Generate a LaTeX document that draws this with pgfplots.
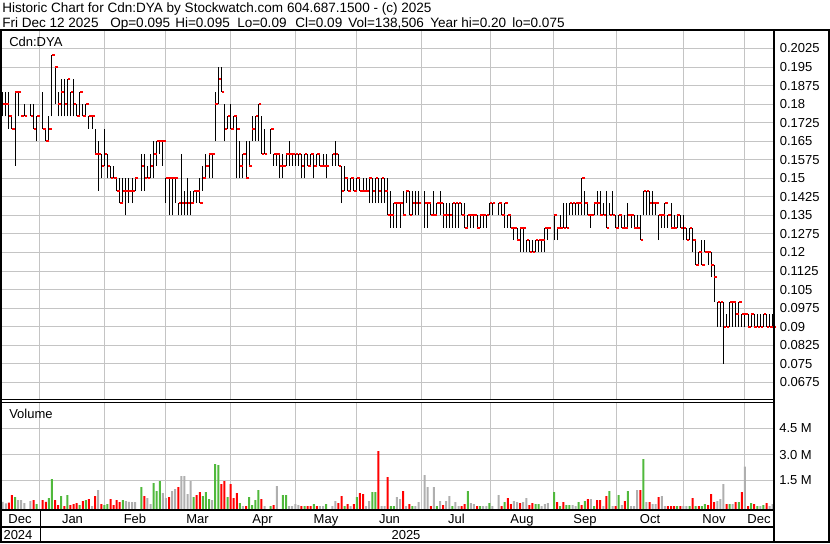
\documentclass[border=0pt]{standalone}
\usepackage{pgfplots}
\pgfplotsset{compat=1.18}
\usepackage{pgfplotstable}
\usepackage{fontspec}
\setmainfont{Liberation Sans}
\definecolor{gridc}{RGB}{196,196,196}
\definecolor{vred}{RGB}{255,0,0}
\definecolor{vgreen}{RGB}{80,185,60}
\definecolor{vgray}{RGB}{175,175,175}
\newcommand{\tf}{\fontsize{9.75}{11}\selectfont}
\newcommand{\hf}{\fontsize{10.15}{12}\selectfont}

% daily price bars: k = trading day index, h = high, l = low, c = close
\pgfplotstableread{
k h l c
0 0.185 0.175 0.18
1 0.185 0.175 0.18
2 0.185 0.17 0.175
3 0.175 0.17 0.17
4 0.185 0.155 0.185
5 0.185 0.175 0.185
6 0.175 0.175 0.175
7 0.18 0.175 0.175
9 0.18 0.175 0.175
10 0.18 0.17 0.17
11 0.175 0.165 0.175
13 0.185 0.17 0.17
14 0.17 0.165 0.165
15 0.175 0.165 0.17
16 0.20 0.175 0.20
17 0.195 0.18 0.195
18 0.185 0.175 0.18
19 0.19 0.175 0.185
20 0.19 0.175 0.18
21 0.19 0.175 0.19
22 0.185 0.175 0.185
23 0.19 0.175 0.18
24 0.18 0.175 0.175
25 0.185 0.175 0.185
26 0.18 0.175 0.175
27 0.18 0.175 0.18
28 0.175 0.17 0.175
29 0.175 0.17 0.175
30 0.17 0.16 0.16
31 0.165 0.145 0.16
32 0.16 0.15 0.155
33 0.17 0.155 0.16
34 0.16 0.15 0.155
35 0.155 0.15 0.15
36 0.155 0.15 0.15
37 0.15 0.145 0.145
38 0.15 0.14 0.14
39 0.15 0.14 0.145
40 0.15 0.135 0.145
41 0.15 0.14 0.145
42 0.15 0.14 0.145
43 0.15 0.145 0.15
45 0.16 0.145 0.155
46 0.16 0.145 0.15
47 0.155 0.15 0.15
48 0.16 0.15 0.155
49 0.165 0.15 0.16
50 0.165 0.155 0.165
51 0.165 0.16 0.165
52 0.165 0.155 0.165
53 0.15 0.14 0.15
54 0.15 0.135 0.15
55 0.15 0.135 0.15
56 0.15 0.14 0.15
57 0.14 0.135 0.14
58 0.16 0.135 0.14
59 0.145 0.135 0.14
60 0.15 0.135 0.14
61 0.145 0.135 0.14
62 0.145 0.14 0.145
63 0.145 0.14 0.145
64 0.15 0.14 0.14
65 0.155 0.145 0.15
66 0.16 0.15 0.155
67 0.16 0.15 0.16
68 0.16 0.15 0.16
69 0.185 0.165 0.18
70 0.195 0.18 0.19
71 0.195 0.185 0.185
72 0.18 0.165 0.17
73 0.175 0.17 0.175
74 0.18 0.17 0.17
75 0.175 0.17 0.175
76 0.175 0.15 0.17
77 0.165 0.15 0.155
78 0.16 0.15 0.16
79 0.165 0.15 0.15
80 0.165 0.155 0.155
81 0.175 0.165 0.17
82 0.175 0.165 0.175
83 0.18 0.165 0.18
84 0.175 0.16 0.16
85 0.17 0.16 0.16
87 0.17 0.16 0.17
88 0.16 0.155 0.16
89 0.16 0.155 0.16
90 0.16 0.15 0.155
91 0.16 0.15 0.155
92 0.16 0.155 0.16
93 0.165 0.155 0.16
94 0.16 0.155 0.16
95 0.16 0.155 0.16
96 0.16 0.155 0.16
97 0.16 0.15 0.155
98 0.16 0.15 0.16
99 0.16 0.155 0.155
100 0.16 0.155 0.16
101 0.16 0.15 0.155
102 0.16 0.155 0.16
103 0.16 0.155 0.155
104 0.16 0.155 0.155
105 0.16 0.15 0.155
107 0.16 0.155 0.16
108 0.165 0.155 0.16
109 0.16 0.155 0.155
110 0.155 0.14 0.145
111 0.155 0.145 0.15
112 0.15 0.145 0.145
113 0.15 0.145 0.15
114 0.15 0.145 0.145
115 0.15 0.145 0.15
116 0.15 0.145 0.145
117 0.15 0.145 0.145
118 0.15 0.145 0.145
119 0.15 0.14 0.15
120 0.15 0.14 0.145
121 0.15 0.14 0.15
122 0.15 0.14 0.145
123 0.15 0.14 0.15
124 0.15 0.14 0.145
125 0.15 0.135 0.135
126 0.145 0.13 0.135
127 0.14 0.13 0.14
128 0.14 0.13 0.14
129 0.14 0.13 0.14
130 0.145 0.135 0.135
131 0.145 0.14 0.145
132 0.145 0.135 0.135
133 0.145 0.135 0.14
134 0.145 0.135 0.14
135 0.145 0.135 0.14
137 0.145 0.13 0.14
138 0.14 0.13 0.14
139 0.14 0.135 0.135
140 0.145 0.135 0.135
141 0.14 0.135 0.14
142 0.145 0.135 0.14
143 0.14 0.13 0.135
144 0.14 0.13 0.135
145 0.14 0.13 0.135
146 0.14 0.13 0.14
147 0.14 0.13 0.14
148 0.14 0.13 0.14
149 0.14 0.135 0.135
150 0.14 0.13 0.13
151 0.135 0.13 0.135
152 0.135 0.13 0.135
153 0.135 0.13 0.135
154 0.135 0.13 0.13
155 0.135 0.13 0.135
156 0.135 0.13 0.135
157 0.135 0.13 0.135
158 0.14 0.135 0.14
159 0.14 0.135 0.14
161 0.14 0.135 0.14
162 0.14 0.135 0.135
163 0.14 0.13 0.14
164 0.135 0.13 0.135
165 0.135 0.13 0.13
166 0.13 0.125 0.13
167 0.13 0.125 0.125
168 0.13 0.12 0.13
169 0.13 0.12 0.13
170 0.125 0.12 0.125
171 0.125 0.12 0.12
172 0.125 0.12 0.12
173 0.125 0.12 0.125
174 0.125 0.12 0.125
175 0.125 0.12 0.125
176 0.13 0.12 0.13
177 0.13 0.125 0.13
179 0.135 0.125 0.135
180 0.13 0.125 0.13
181 0.135 0.13 0.13
182 0.14 0.13 0.13
183 0.14 0.13 0.13
184 0.14 0.135 0.14
185 0.14 0.135 0.14
186 0.14 0.135 0.14
187 0.14 0.135 0.14
188 0.15 0.135 0.15
189 0.145 0.135 0.14
190 0.14 0.135 0.135
191 0.135 0.13 0.135
192 0.14 0.135 0.14
193 0.145 0.135 0.14
194 0.145 0.135 0.135
195 0.14 0.135 0.135
196 0.145 0.13 0.13
197 0.14 0.135 0.135
198 0.145 0.135 0.135
199 0.135 0.13 0.13
200 0.135 0.13 0.135
201 0.135 0.13 0.13
202 0.135 0.13 0.13
203 0.14 0.13 0.135
204 0.135 0.13 0.135
205 0.135 0.13 0.13
206 0.135 0.13 0.13
207 0.135 0.125 0.125
208 0.145 0.135 0.145
209 0.145 0.135 0.145
210 0.145 0.135 0.14
211 0.145 0.135 0.14
212 0.14 0.135 0.14
213 0.135 0.125 0.135
214 0.135 0.13 0.135
215 0.14 0.13 0.14
216 0.135 0.13 0.135
217 0.14 0.13 0.13
218 0.135 0.13 0.13
219 0.135 0.13 0.135
220 0.135 0.13 0.13
221 0.135 0.125 0.13
222 0.13 0.125 0.125
223 0.13 0.125 0.13
224 0.13 0.12 0.125
225 0.125 0.115 0.115
226 0.12 0.115 0.12
227 0.125 0.115 0.115
228 0.125 0.12 0.12
229 0.12 0.115 0.12
230 0.12 0.11 0.115
231 0.115 0.10 0.11
232 0.10 0.09 0.10
233 0.10 0.09 0.10
234 0.10 0.075 0.09
235 0.095 0.09 0.09
236 0.10 0.09 0.10
237 0.10 0.09 0.10
238 0.10 0.09 0.095
239 0.10 0.09 0.10
240 0.095 0.09 0.095
241 0.095 0.09 0.095
242 0.095 0.09 0.09
243 0.095 0.09 0.095
244 0.095 0.09 0.09
245 0.095 0.09 0.09
246 0.095 0.09 0.09
247 0.095 0.09 0.095
248 0.095 0.09 0.09
249 0.095 0.09 0.09
250 0.095 0.09 0.09
}\price

% volume in millions; c: 0 = down (red), 1 = up (green), 2 = unchanged (gray)
\pgfplotstableread{
k v c
0 0.27 2
1 0.18 2
2 0.23 0
3 0.66 0
4 0.54 1
5 0.37 2
6 0.37 2
7 0.20 2
9 0.31 2
10 0.37 0
11 0.14 1
13 0.37 0
14 0.27 0
15 0.48 1
16 1.58 1
17 0.37 0
18 0.08 0
19 0.60 1
20 0.02 0
21 0.66 1
22 0.08 0
23 0.14 0
24 0.20 0
25 0.08 1
26 0.31 0
27 0.37 1
28 0.43 0
29 0.02 2
30 0.60 0
31 0.95 2
32 0.14 0
33 0.08 1
34 0.14 1
35 0.43 0
36 0.08 0
37 0.37 0
38 0.25 0
39 0.37 1
40 0.31 2
41 0.27 2
42 0.25 2
43 0.25 2
45 1.12 1
46 0.60 0
47 0.48 2
48 0.14 2
49 1.35 1
50 0.89 1
51 1.46 1
52 0.77 2
53 0.48 2
54 0.54 0
55 0.89 2
56 1.00 2
57 1.12 0
58 1.75 2
59 1.75 2
60 0.71 2
61 1.46 2
62 0.54 1
63 0.66 0
64 0.83 0
65 0.60 1
66 0.83 1
67 0.43 1
68 0.37 2
69 2.45 1
70 2.39 1
71 1.29 0
72 1.46 0
73 0.54 1
74 1.29 0
75 0.48 0
76 0.77 0
77 0.20 1
78 0.02 2
79 0.02 0
80 0.54 1
81 0.08 1
82 0.37 1
83 0.95 1
84 0.43 0
85 0.02 2
87 0.02 1
88 0.08 0
89 1.18 2
91 0.66 1
92 0.66 1
93 0.02 2
94 0.02 2
95 0.14 2
96 0.08 2
97 0.02 0
98 0.02 1
99 0.02 0
100 0.02 0
101 0.14 1
102 0.02 0
103 0.02 2
104 0.02 2
105 0.14 1
107 0.02 2
108 0.31 2
109 0.20 0
110 0.60 0
111 0.02 1
112 0.14 0
113 0.02 2
114 0.14 0
115 0.54 1
116 0.77 0
117 0.71 0
118 0.02 2
119 0.31 2
120 0.83 1
121 0.83 1
122 3.20 0
123 0.02 2
124 0.02 2
125 1.70 0
126 0.02 1
127 0.02 1
128 0.54 2
129 0.43 2
130 0.89 0
131 0.02 2
132 0.14 0
133 0.02 1
134 0.02 2
135 0.25 2
137 1.81 2
138 1.12 2
139 0.02 0
140 1.12 2
141 0.02 1
142 0.31 2
143 0.08 0
144 0.31 2
145 0.60 2
146 0.02 1
147 0.25 2
148 0.02 2
149 0.02 0
150 0.14 0
151 0.89 1
152 0.20 2
153 0.14 2
154 0.02 0
155 0.02 1
156 0.02 2
157 0.02 2
158 0.20 1
159 0.02 2
161 0.66 2
162 0.02 0
163 0.25 1
164 0.48 0
165 0.14 0
166 0.31 2
167 0.25 2
168 0.20 0
169 0.25 2
170 0.48 2
171 0.08 0
172 0.20 0
173 0.14 1
174 0.14 1
175 0.02 2
176 0.14 2
177 0.20 2
179 0.83 1
180 0.25 0
181 0.02 1
182 0.25 0
183 0.08 1
184 0.08 1
185 0.08 2
186 0.02 2
187 0.25 1
188 0.08 0
189 0.31 1
190 0.43 0
191 0.43 2
192 0.02 1
193 0.37 0
194 0.37 0
195 0.02 2
196 0.60 0
197 0.89 1
198 0.02 2
199 0.02 0
200 0.66 1
201 0.08 2
202 0.31 0
203 0.89 1
204 0.02 2
205 0.02 2
206 0.95 2
207 0.95 0
208 2.73 1
209 0.25 2
210 0.25 0
211 0.14 2
212 0.14 2
213 0.54 0
214 0.60 2
215 0.02 2
216 0.02 0
217 0.02 0
218 0.02 0
219 0.02 1
220 0.02 0
221 0.02 2
222 0.02 2
223 0.02 1
224 0.48 0
225 0.02 1
226 0.02 0
227 0.02 1
228 0.14 1
229 0.08 0
230 0.71 0
231 0.25 0
232 0.31 2
233 0.43 2
234 1.29 2
235 0.14 0
236 0.14 1
237 0.14 2
238 0.25 0
239 0.25 1
240 0.83 0
241 2.31 2
242 0.02 0
243 0.20 1
244 0.14 0
245 0.02 1
246 0.02 2
247 0.08 1
248 0.20 0
249 0.02 2
250 0.14 2
}\volume

\begin{document}
\begin{tikzpicture}
\path[use as bounding box] (0,0) rectangle (622.5pt,-407.25pt);

% ---------- price panel ----------
\begin{axis}[
  at={(1.5pt,-299.25pt)}, anchor=south west,
  scale only axis, width=578.25pt, height=275.8pt,
  xmin=-0.23, xmax=250.1, ymin=0.06076, ymax=0.20945,
  axis line style={draw=none},
  major tick length=0pt,
  xtick={12.1,33.2,52.7,73.8,94.9,115,136.1,158.5,178.7,199.4,220.9,241},
  xticklabels={},
  ytick={0.0675,0.075,0.0825,0.09,0.0975,0.105,0.1125,0.12,0.1275,0.135,0.1425,0.15,0.1575,0.165,0.1725,0.18,0.1875,0.195,0.2025},
  yticklabels={0.0675,0.075,0.0825,0.09,0.0975,0.105,0.1125,0.12,0.1275,0.135,0.1425,0.15,0.1575,0.165,0.1725,0.18,0.1875,0.195,0.2025},
  yticklabel pos=right,
  yticklabel style={anchor=west, inner sep=0pt, xshift=4.9pt, font=\tf},
  xmajorgrids, ymajorgrids,
  grid style={draw=gridc, line width=0.75pt},
]
\addplot[draw=none, mark=none, forget plot,
  error bars/.cd, y dir=plus, y explicit, error mark=none,
  error bar style={draw=black, line width=0.75pt}]
  table[x=k, y=l, y error plus expr={\thisrow{h}-\thisrow{l}}] {\price};
\addplot[only marks, mark=-, mark size=1pt,
  mark options={draw=vred, line width=1.5pt, xshift=1.2pt}]
  table[x=k, y=c] {\price};
\end{axis}

% ---------- volume panel ----------
\begin{axis}[
  at={(1.5pt,-382.125pt)}, anchor=south west,
  scale only axis, width=578.25pt, height=80.25pt,
  xmin=-0.23, xmax=250.1, ymin=0, ymax=6.17,
  axis line style={draw=none},
  major tick length=0pt,
  xtick={5.62,22.66,42.95,63.25,84.35,104.97,125.58,147.34,168.6,189.06,210.16,230.94,245.55},
  xticklabels={Dec,Jan,Feb,Mar,Apr,May,Jun,Jul,Aug,Sep,Oct,Nov,Dec},
  xticklabel style={anchor=base, yshift=-10.35pt, font=\tf},
  extra x ticks={12.1,33.2,52.7,73.8,94.9,115,136.1,158.5,178.7,199.4,220.9,241},
  extra x tick labels={},
  extra x tick style={grid=major},
  ytick={1.67,3.17,4.67},
  yticklabels={1.5 M,3.0 M,4.5 M},
  yticklabel pos=right,
  yticklabel style={anchor=west, inner sep=0pt, xshift=4.5pt, font=\tf},
  ymajorgrids,
  grid style={draw=gridc, line width=0.75pt},
]
\addplot[ybar, bar width=1.5pt, bar shift=0pt, fill=vred, draw=none,
  y filter/.expression={y+0.17},
  restrict expr to domain={\thisrow{c}}{0:0}] table[x=k, y=v] {\volume};
\addplot[ybar, bar width=1.5pt, bar shift=0pt, fill=vgreen, draw=none,
  y filter/.expression={y+0.17},
  restrict expr to domain={\thisrow{c}}{1:1}] table[x=k, y=v] {\volume};
\addplot[ybar, bar width=1.5pt, bar shift=0pt, fill=vgray, draw=none,
  y filter/.expression={y+0.17},
  restrict expr to domain={\thisrow{c}}{2:2}] table[x=k, y=v] {\volume};
\end{axis}

% ---------- frame and text ----------
\begin{scope}[x=0.75pt, y=-0.75pt]
\draw[line width=1.5pt] (0,30.3) -- (830,30.3);
\draw[line width=1.5pt] (1,30.3) -- (1,543);
\draw[line width=1.5pt] (829,30.3) -- (829,543);
\draw[line width=1.5pt] (0,542) -- (830,542);
\draw[line width=1.5pt] (773.6,30.3) -- (773.6,543);
\draw[line width=0.75pt] (0,399.7) -- (773.6,399.7);
\draw[line width=0.75pt] (0,402.2) -- (773.6,402.2);
\draw[line width=1.5pt] (0,510.3) -- (773.6,510.3);
\draw[line width=1.5pt] (0,527) -- (773.6,527);
\draw[line width=1pt] (40.5,510.3) -- (40.5,542);

\node[anchor=base west, inner sep=0pt, font=\hf] at (2,12) {Historic Chart for Cdn:DYA by Stockwatch.com 604.687.1500 - (c) 2025};
\node[anchor=base west, inner sep=0pt, font=\hf] at (2,27) {Fri Dec 12 2025};
\node[anchor=base west, inner sep=0pt, font=\hf] at (110,27) {Op=0.095};
\node[anchor=base west, inner sep=0pt, font=\hf] at (175,27) {Hi=0.095};
\node[anchor=base west, inner sep=0pt, font=\hf] at (237,27) {Lo=0.09};
\node[anchor=base west, inner sep=0pt, font=\hf] at (295,27) {Cl=0.09};
\node[anchor=base west, inner sep=0pt, font=\hf] at (348,27) {Vol=138,506};
\node[anchor=base west, inner sep=0pt, font=\hf] at (430,27) {Year hi=0.20};
\node[anchor=base west, inner sep=0pt, font=\hf] at (512,27) {lo=0.075};

\node[anchor=base west, inner sep=0pt, font=\tf] at (9,46.5) {Cdn:DYA};
\node[anchor=base west, inner sep=0pt, font=\tf] at (9,418.3) {Volume};
\node[anchor=base, inner sep=0pt, font=\tf] at (18,539.3) {2024};
\node[anchor=base, inner sep=0pt, font=\tf] at (406,539.3) {2025};
\end{scope}
\end{tikzpicture}
\end{document}
